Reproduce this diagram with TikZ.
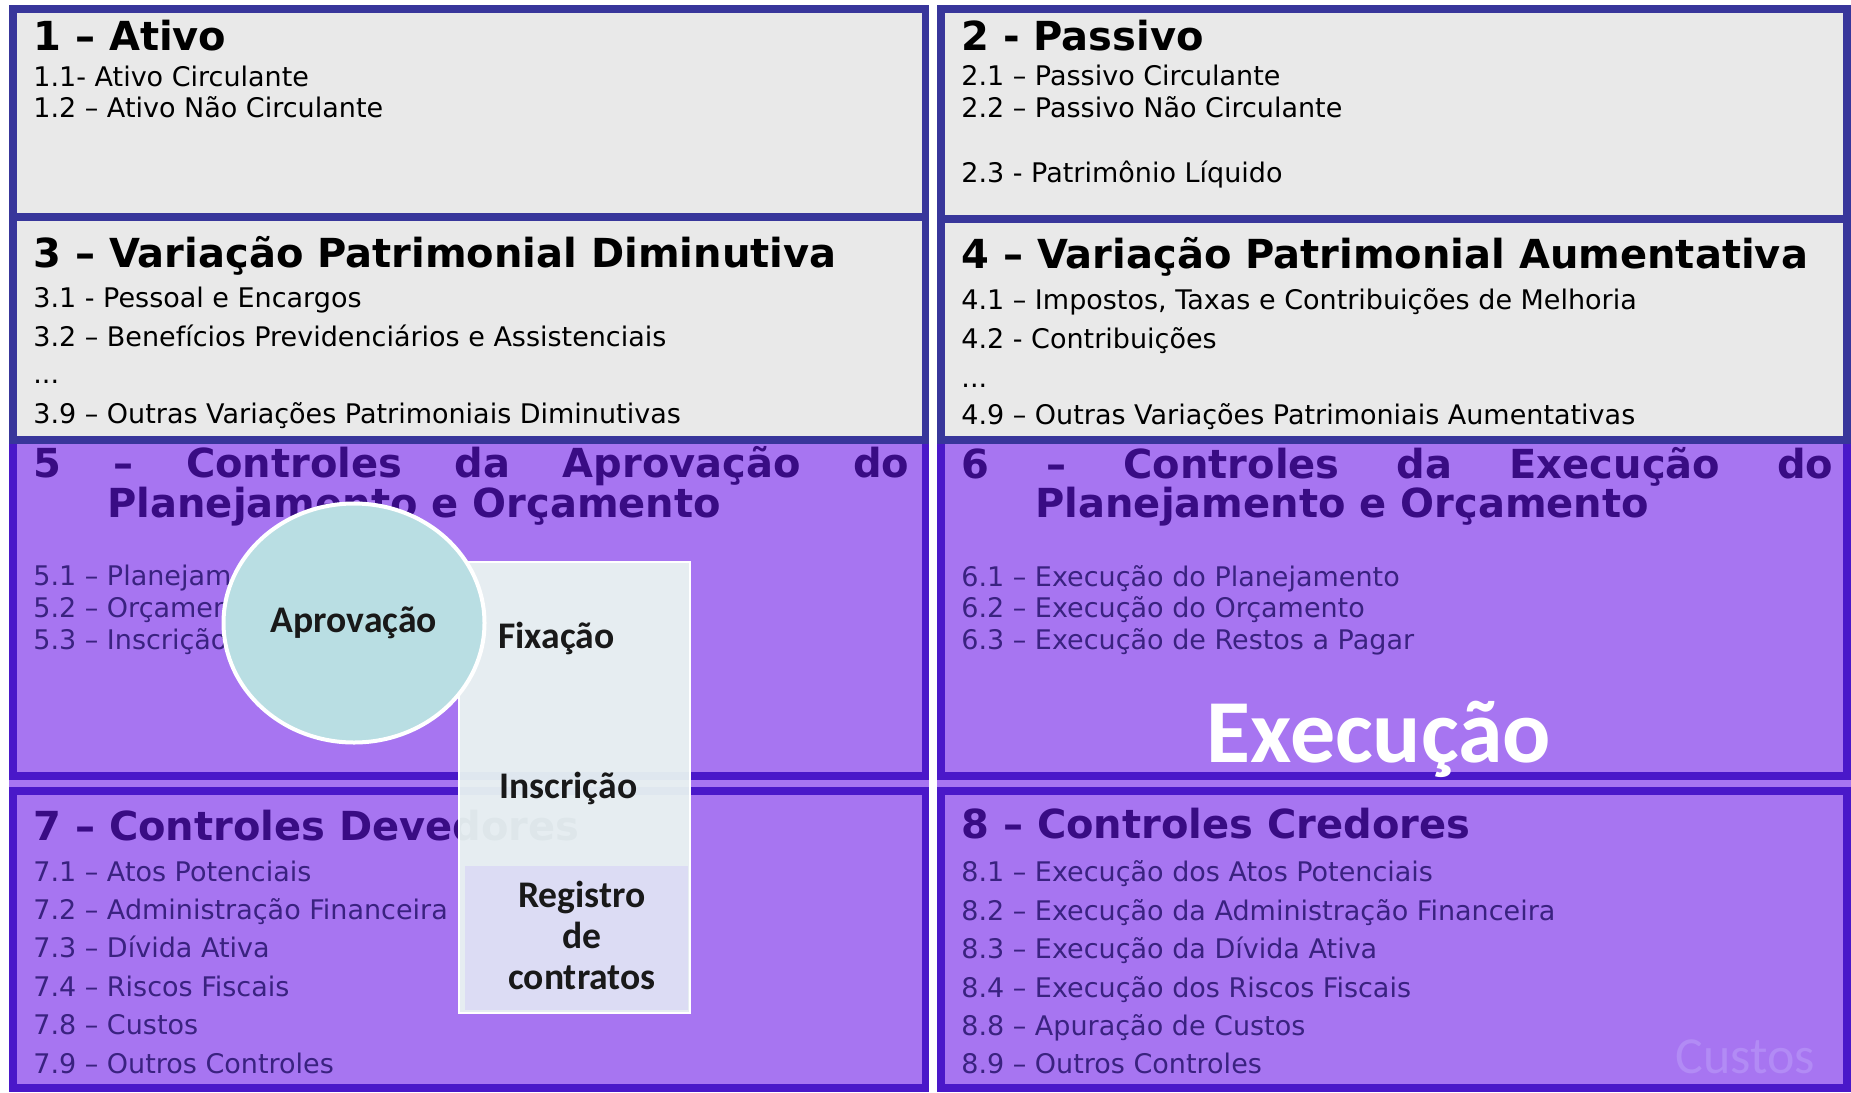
\documentclass[tikz,border=0pt]{standalone}
\usepackage{fontspec}
\setmainfont{DejaVu Sans}
\newfontfamily\calibri{Carlito}
\usetikzlibrary{shapes.geometric}
\definecolor{cinza}{HTML}{E9E9E9}
\definecolor{azul}{HTML}{38369B}
\definecolor{roxo}{HTML}{A775F1}
\definecolor{roxoborda}{HTML}{4A18C9}
\definecolor{roxotitulo}{HTML}{390C84}
\definecolor{roxotexto}{HTML}{3A2280}
\definecolor{circulo}{HTML}{B9DEE3}
\definecolor{painel}{HTML}{EBF7F2}
\definecolor{registro}{HTML}{DCDCF4}
\definecolor{custos}{HTML}{B28BF5}
\begin{document}
\begin{tikzpicture}[x=0.5pt, y=-0.5pt,
  titulo/.style={anchor=base west, inner sep=0pt, font=\fontsize{20}{24}\selectfont\bfseries},
  item/.style={anchor=base west, inner sep=0pt, font=\fontsize{13.5}{16}\selectfont},
  caixacinza/.style={draw=azul, fill=cinza, line width=3.75pt},
  caixaroxa/.style={draw=roxoborda, fill=roxo, line width=3.6pt},
  etapa/.style={inner sep=0pt, text=black!90, font=\calibri\bfseries\fontsize{18.8}{20.5}\selectfont}]
\useasboundingbox (0,0) rectangle (1851,1092);
\fill[white] (0,0) rectangle (1851,1092);
\fill[roxo] (9,776) rectangle (929,791);
\fill[roxo] (937,776) rectangle (1851,791);
\foreach \xa/\xb in {13/925.5, 941/1847} {
    \filldraw[caixaroxa] (\xa,440) rectangle (\xb,776);
    \filldraw[caixaroxa] (\xa,791) rectangle (\xb,1088);
}
\filldraw[caixacinza] (13,9) rectangle (925.5,217);
\filldraw[caixacinza] (13,217) rectangle (925.5,440);
\filldraw[caixacinza] (941,9) rectangle (1847,219);
\filldraw[caixacinza] (941,219) rectangle (1847,440);

\node[titulo] (ativo) at (33,50) {1 – Ativo};
\foreach \txt/\y [count=\k] in {1.1- Ativo Circulante/86, 1.2 – Ativo Não Circulante/117}
    \node[item] (ativo\k) at (33,\y) {\txt};
\node[titulo] (passivo) at (961,50) {2 - Passivo};
\foreach \txt/\y [count=\k] in {2.1 – Passivo Circulante/85, 2.2 – Passivo Não Circulante/117,
    2.3 - Patrimônio Líquido/182}
    \node[item] (passivo\k) at (961,\y) {\txt};
\node[titulo] (vpd) at (33,267) {3 – Variação Patrimonial Diminutiva};
\foreach \txt/\y [count=\k] in {3.1 - Pessoal e Encargos/307,
    3.2 – Benefícios Previdenciários e Assistenciais/346,
    3.9 – Outras Variações Patrimoniais Diminutivas/423}
    \node[item] (vpd\k) at (33,\y) {\txt};
\node[item] (vpddots) at (33,383) {...};
\node[titulo] (vpa) at (961,268) {4 – Variação Patrimonial Aumentativa};
\foreach \txt/\y [count=\k] in {{4.1 – Impostos, Taxas e Contribuições de Melhoria}/309,
    4.2 - Contribuições/348, 4.9 – Outras Variações Patrimoniais Aumentativas/424}
    \node[item] (vpa\k) at (961,\y) {\txt};
\node[item] (vpadots) at (961,387) {...};

\begin{scope}[every node/.append style={text=roxotitulo}]
\node[titulo] (aprov) at (33,477) {\makebox[438pt][s]{5 – Controles da Aprovação do}};
\node[titulo] (aprovb) at (107,517) {Planejamento e Orçamento};
\node[titulo] (exec) at (961,478) {\makebox[436pt][s]{6 – Controles da Execução do}};
\node[titulo] (execb) at (1035,517) {Planejamento e Orçamento};
\node[titulo] (dev) at (33,840) {7 – Controles Devedores};
\node[titulo] (cred) at (961,838) {8 – Controles Credores};
\end{scope}
\begin{scope}[every node/.append style={text=roxotexto}]
\foreach \txt/\y [count=\k] in {5.1 – Planejamento/585, 5.2 – Orçamento/617, 5.3 – Inscrição/649}
    \node[item] (aprovi\k) at (33,\y) {\txt};
\foreach \txt/\y [count=\k] in {6.1 – Execução do Planejamento/586, 6.2 – Execução do Orçamento/617,
    6.3 – Execução de Restos a Pagar/649}
    \node[item] (execi\k) at (961,\y) {\txt};
\foreach \txt/\y [count=\k] in {7.1 – Atos Potenciais/881, 7.2 – Administração Financeira/919,
    7.3 – Dívida Ativa/957, 7.4 – Riscos Fiscais/996, 7.8 – Custos/1034, 7.9 – Outros Controles/1073}
    \node[item] (devi\k) at (33,\y) {\txt};
\foreach \txt/\y [count=\k] in {8.1 – Execução dos Atos Potenciais/881,
    8.2 – Execução da Administração Financeira/920, 8.3 – Execução da Dívida Ativa/958,
    8.4 – Execução dos Riscos Fiscais/997, 8.8 – Apuração de Custos/1035, 8.9 – Outros Controles/1073}
    \node[item] (credi\k) at (961,\y) {\txt};
\end{scope}

\node[anchor=base, inner sep=0pt, text=white, font=\calibri\bfseries\fontsize{45}{52}\selectfont]
    (execucao) at (1379,762) {Execução};
\node[anchor=base, inner sep=0pt, text=custos, font=\calibri\fontsize{26}{30}\selectfont]
    (custos) at (1745,1073) {Custos};

\filldraw[draw=white, line width=1pt, fill=painel, fill opacity=0.93] (459,562) rectangle (690,1013);
\fill[registro] (465,866) rectangle (688,1010);
\node[etapa, anchor=base west] (fixacao) at (498,648) {Fixação};
\node[etapa, anchor=base west] (inscricao) at (499,798) {Inscrição};
\foreach \txt/\y [count=\k] in {Registro/907, de/948, contratos/989}
    \node[etapa, anchor=base] (registro\k) at (582,\y) {\txt};
\node[ellipse, draw=white, line width=2pt, fill=circulo, minimum width=130.5pt, minimum height=119.5pt,
    etapa] (aprovacao) at (354,623) {Aprovação};
\end{tikzpicture}
\end{document}
